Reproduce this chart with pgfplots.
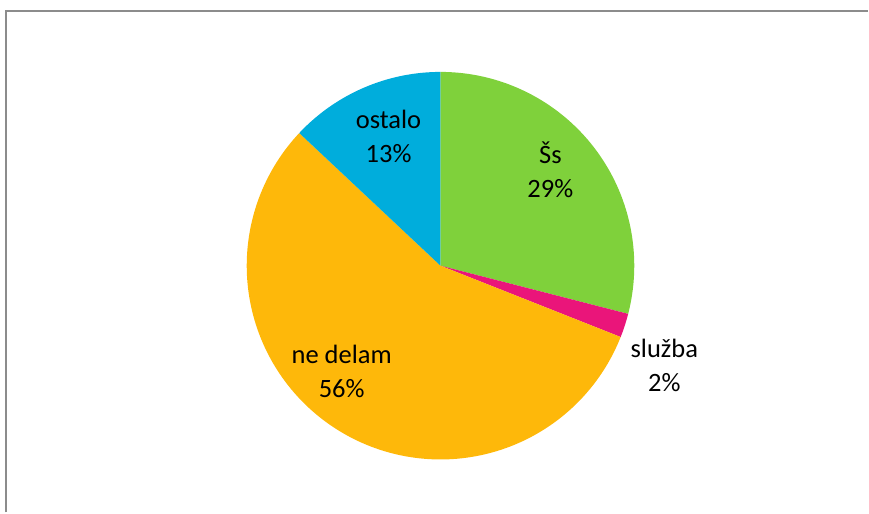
\documentclass[border=0pt]{standalone}
\usepackage{fontspec}
\setmainfont{Carlito}
\usepackage{pgfplots}
\pgfplotsset{compat=1.18}
\definecolor{cSs}{HTML}{7FD13B}
\definecolor{cSl}{HTML}{EA157A}
\definecolor{cNe}{HTML}{FEB80A}
\definecolor{cOs}{HTML}{00ADDC}
\definecolor{frame}{HTML}{8C8C8C}
% values (percent): Šs 29, služba 2, ne delam 56, ostalo 13
\pgfmathsetmacro{\aA}{90}
\pgfmathsetmacro{\aB}{\aA-29*3.6}
\pgfmathsetmacro{\aC}{\aB-2*3.6}
\pgfmathsetmacro{\aD}{\aC-56*3.6}
\pgfmathsetmacro{\aE}{\aD-13*3.6}
\begin{document}
\begin{tikzpicture}
\begin{axis}[
  scale only axis, width=869pt, height=513pt,
  xmin=-2.2732, xmax=2.2062, ymin=-1.2732, ymax=1.3711,
  axis lines=none, clip=false,
]
\path (rel axis cs:0,0) rectangle (rel axis cs:1,1);
\addplot[fill=cSs, draw=none, domain=\aA:\aB, samples=90, variable=\t] ({cos(\t)},{sin(\t)}) -- (axis cs:0,0) -- cycle;
\addplot[fill=cSl, draw=none, domain=\aB:\aC, samples=10, variable=\t] ({cos(\t)},{sin(\t)}) -- (axis cs:0,0) -- cycle;
\addplot[fill=cNe, draw=none, domain=\aC:\aD, samples=150, variable=\t] ({cos(\t)},{sin(\t)}) -- (axis cs:0,0) -- cycle;
\addplot[fill=cOs, draw=none, domain=\aD:\aE, samples=40, variable=\t] ({cos(\t)},{sin(\t)}) -- (axis cs:0,0) -- cycle;
\draw[frame, line width=2pt] (rel axis cs:{6/869},0) -- (rel axis cs:{6/869},{1-11/513}) -- (rel axis cs:1,{1-11/513});
\tikzset{lab/.style={align=center, font=\fontsize{26.5}{34}\selectfont, text=black}}
\node[lab] at (axis cs:-0.268,0.665) {ostalo\\13\%};
\node[lab] at (axis cs:0.567,0.495) {Šs\\29\%};
\node[lab] at (axis cs:-0.510,-0.546) {ne delam\\56\%};
\node[lab] at (axis cs:1.155,-0.515) {služba\\2\%};
\end{axis}
\end{tikzpicture}
\end{document}
